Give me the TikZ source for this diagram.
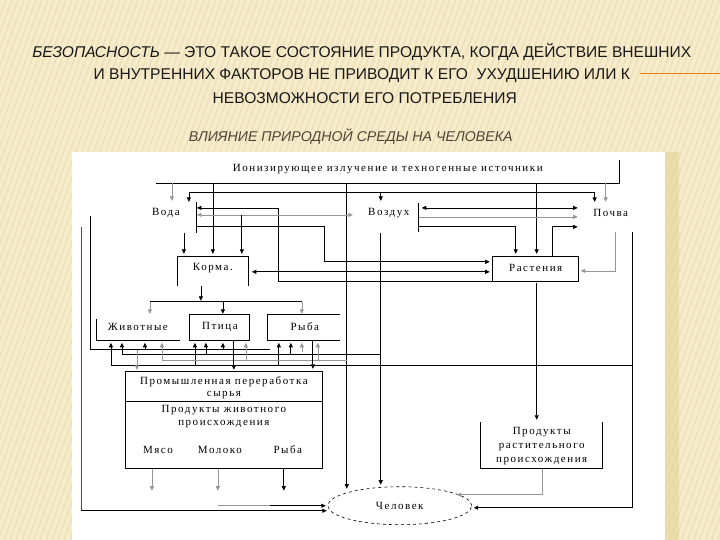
\documentclass[tikz,border=0pt]{standalone}
\usepackage{fontspec}
\setmainfont{Liberation Serif}
\newfontfamily\titlefont{Liberation Sans}
\newfontfamily\diagfont[LetterSpace=14]{Liberation Serif}
\usetikzlibrary{arrows.meta,shapes.geometric}
\definecolor{bg}{RGB}{246,236,203}
\definecolor{stripe}{RGB}{238,225,185}
\definecolor{gold}{RGB}{230,208,140}
\definecolor{subt}{RGB}{80,68,55}
\definecolor{gl}{RGB}{150,150,150}
\begin{document}
\begin{tikzpicture}[x=1pt,y=-1pt,
  ln/.style={line width=0.75pt,black},
  lg/.style={line width=0.6pt,gl},
  lt/.style={line width=1.2pt,black},
  arr/.style={-{Triangle[length=4.5pt,width=4pt]}},
  darr/.style={{Triangle[length=4.5pt,width=4pt]}-{Triangle[length=4.5pt,width=4pt]}},
  dt/.style={font=\diagfont\fontsize{11}{13}\selectfont,inner sep=0pt},
  tt/.style={font=\titlefont\fontsize{15.6}{18}\selectfont,inner sep=0pt,text=black!90},
]
% background
\fill[bg] (0,0) rectangle (720,540);
\begin{scope}
\clip (0,0) rectangle (720,540);
\foreach \i in {-200,-194,...,720} {\draw[stripe,line width=1.6pt] (\i,540)--(\i+200,0);}
\end{scope}
\draw[orange!70!brown,line width=0.8pt] (640,73)--(720,73);
\useasboundingbox (0,0) rectangle (720,540);

% titles
\node[tt] (t1) at (362,52) {\textit{БЕЗОПАСНОСТЬ} — ЭТО ТАКОЕ СОСТОЯНИЕ ПРОДУКТА, КОГДА ДЕЙСТВИЕ ВНЕШНИХ};
\node[tt] (t2) at (362,76) {И ВНУТРЕННИХ ФАКТОРОВ НЕ ПРИВОДИТ К ЕГО\ \ УХУДШЕНИЮ ИЛИ К};
\node[tt] (t3) at (365,98) {НЕВОЗМОЖНОСТИ ЕГО ПОТРЕБЛЕНИЯ};
\node[font=\titlefont\itshape\fontsize{14.2}{16}\selectfont,text=subt,inner sep=0pt] (st) at (351,137) {ВЛИЯНИЕ ПРИРОДНОЙ СРЕДЫ НА ЧЕЛОВЕКА};

% white panel
\fill[gold,opacity=0.5] (665,152) rectangle (679,540);
\fill[white] (72,152) rectangle (665,540);

% text nodes
\node[dt] (ion) at (388,169) {Ионизирующее излучение и техногенные источники};
\node[dt] (voda) at (166,213) {Вода};
\node[dt] (vozd) at (389,213) {Воздух};
\node[dt] (pochva) at (611,213) {Почва};

% top distribution
\draw[ln] (620,160)--(620,183)--(156,183);
\draw[lg,arr] (172,183)--(172,201);
\draw[ln,arr] (213,183)--(213,254);
\draw[ln,arr] (347,183)--(347,489);
\draw[ln,arr] (537,183)--(537,254);
\draw[lg,arr] (606,183)--(606,202);
\draw[ln] (189,192)--(595,192);
\draw[ln,arr] (189,192)--(189,202);
\draw[ln,arr] (381,192)--(381,201);
\draw[ln,arr] (595,192)--(595,202);

% Voda bar
\draw[ln] (196,202)--(196,233);
\draw[ln,arr] (493,282)--(279,282)--(279,208)--(197,208);
\draw[lg,darr] (197,215)--(353,215);
\draw[ln,arr] (242,215)--(242,254);
\draw[ln,arr] (196,227)--(325,227)--(325,262)--(490,262);
\draw[ln,arr] (184,233)--(184,254);

% Korma
\draw[ln] (177,286)--(177,257)--(249,257)--(249,286);
\node[dt] (korma) at (213,268) {Корма.};
\draw[ln,darr] (252,272)--(490,272);
\draw[ln,arr] (201,286)--(201,301);
\draw[ln] (150,302)--(302,302);
\draw[lg,arr] (150,302)--(150,314);
\draw[ln,arr] (223,302)--(223,314);
\draw[lg,arr] (302,302)--(302,314);

% Rastenia
\draw[ln] (493,282)--(493,257)--(579,257)--(579,282)--cycle;
\node[dt] (rast) at (536,268) {Растения};

% Vozduh bar
\draw[ln] (419,203)--(419,232);
\draw[ln,darr] (422,208)--(578,208);
\draw[lg,arr] (419,217)--(578,217);
\draw[ln,arr] (419,227)--(516,227)--(516,254);
\draw[ln,arr] (553,257)--(553,227)--(578,227);
\draw[lg,arr] (616,232)--(616,271)--(581,271);

% long verticals
\draw[lt,arr] (381,233)--(381,485);
\draw[lt] (633,232)--(633,508);
\draw[ln,arr] (633,508)--(474,508);

% left verticals
\draw[ln] (90,216)--(90,350)--(270,350);
\draw[line width=0.7pt,black!70] (81,227)--(81,511);
\draw[ln,arr] (81,511)--(327,511);

% animal boxes
\draw[ln] (96,319)--(96,341)--(180,341);
\node[dt] (ziv) at (138,327) {Животные};
\draw[ln] (189,315) rectangle (250,341);
\node[dt] (ptica) at (220,327) {Птица};
\draw[ln] (340,315)--(268,315)--(268,341)--(340,341);
\node[dt] (ryba) at (305,327) {Рыба};

% feeding lines under boxes
\draw[ln] (111,366)--(633,366);
\foreach \x in {111,195,279} {\draw[ln,arr] (\x,366)--(\x,343);}
\draw[ln] (122,355)--(381,355);
\foreach \x in {122,206,291} {\draw[ln,arr] (\x,355)--(\x,343);}
\foreach \x in {145,223} {\draw[ln,arr] (\x,350)--(\x,343);}
\draw[lg,arr] (302,352)--(302,343);
\draw[lg] (162,360)--(347,360);
\foreach \x in {162,246,318} {\draw[lg,arr] (\x,360)--(\x,343);}

% to industrial processing
\draw[ln,arr] (234,341)--(234,370);
\draw[ln,arr] (313,341)--(313,369);
\draw[lg,arr] (137,350)--(137,370);

% Industrial box
\draw[ln] (125,372) rectangle (323,469);
\draw[ln] (125,402)--(323,402);
\node[dt] (prom1) at (224,382) {Промышленная переработка};
\node[dt] (prom2) at (224,395) {сырья};
\node[dt] (pz1) at (224,410) {Продукты животного};
\node[dt] (pz2) at (224,424) {происхождения};
\node[dt] (myaso) at (158,450) {Мясо};
\node[dt] (moloko) at (220,450) {Молоко};
\node[dt] (ryba2) at (288,450) {Рыба};
\draw[lg,arr] (152,469)--(152,491);
\draw[lg,arr] (218,469)--(218,491);
\draw[ln,arr] (284,469)--(284,491);

% Human
\node[ellipse,draw,dashed,line width=0.6pt,minimum width=144pt,minimum height=38pt,inner sep=0pt,font=\diagfont\fontsize{11}{13}\selectfont] (chel) at (400,506) {Человек};
\draw[lg] (218,506)--(270,506);
\draw[ln,arr] (270,506)--(326,506);

% Plant products
\draw[ln] (481,422)--(481,469)--(603,469)--(603,422);
\node[dt] (pr1) at (542,432) {Продукты};
\node[dt] (pr2) at (542,447) {растительного};
\node[dt] (pr3) at (542,461) {происхождения};
\draw[ln,arr] (537,283)--(537,420);
\draw[lg,arr] (543,469)--(543,495)--(457,495);
\end{tikzpicture}
\end{document}
